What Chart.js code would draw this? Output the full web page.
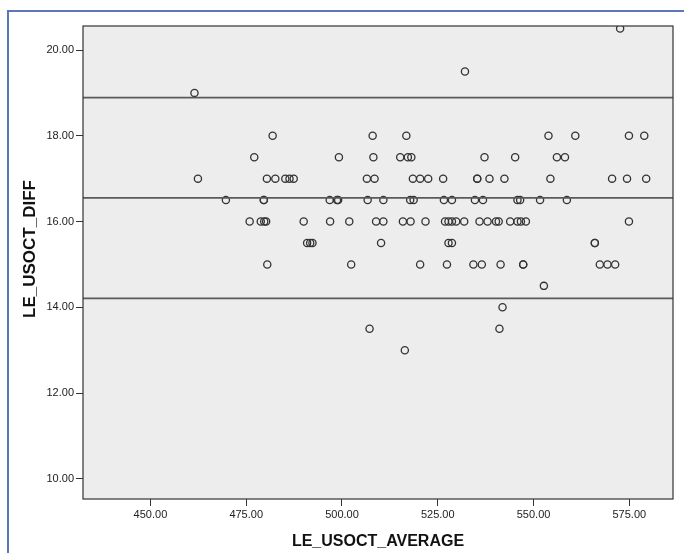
<!DOCTYPE html>
<html>
<head>
<meta charset="utf-8">
<script src="https://cdn.jsdelivr.net/npm/chart.js@4.4.1/dist/chart.umd.min.js"></script>
<style>
  body { margin: 0; background: #fff; }
  #frame { position: absolute; left: 7px; top: 10px; width: 720px; height: 600px; border: 2px solid #5a78b8; }
  #myChart { position: absolute; left: 0; top: 0; }
</style>
</head>
<body>
<div id="frame"></div>
<canvas id="myChart" width="684" height="553"></canvas>
<script>
// difference levels and the averages measured at each level
const diffLevels = [20.5, 19.5, 19.0, 18.0, 17.5, 17.0, 16.5, 16.0, 15.5, 15.0, 14.5, 14.0, 13.5, 13.0];
const averagesByLevel = [
    [572.6],
    [532.1],
    [461.5],
    [481.9, 508.0, 516.8, 553.9, 560.9, 574.9, 578.9],
    [477.1, 499.2, 508.2, 515.2, 517.2, 518.1, 537.2, 545.2, 556.1, 558.2],
    [462.4, 480.4, 482.6, 485.2, 486.3, 487.4, 506.5, 508.5, 518.5, 520.4, 522.5, 526.4, 535.3, 535.3, 538.5, 542.4, 554.4, 570.5, 574.4, 579.4],
    [469.7, 479.6, 479.6, 496.8, 498.7, 499.0, 506.7, 510.8, 517.8, 518.7, 526.6, 528.7, 534.7, 536.8, 545.8, 546.5, 551.7, 558.7],
    [475.9, 478.8, 479.7, 480.2, 490.0, 496.9, 501.9, 508.9, 510.8, 515.9, 517.9, 521.8, 526.9, 527.8, 528.7, 529.8, 531.9, 535.9, 538.0, 540.2, 540.9, 543.9, 545.8, 546.7, 548.0, 574.9],
    [490.9, 491.7, 492.3, 510.2, 527.8, 528.7, 566.0, 566.0],
    [480.5, 502.4, 520.4, 527.4, 534.3, 536.5, 541.4, 547.3, 547.3, 567.3, 569.3, 571.3],
    [552.7],
    [541.9],
    [507.2, 541.1],
    [516.4]
];

// mean difference and limits of agreement
const meanDiff = 16.55;
const upperLimit = 18.89;
const lowerLimit = 14.21;

const xTicks = [450, 475, 500, 525, 550, 575];
const yTicks = [10, 12, 14, 16, 18, 20];
const xRange = [432.4, 586.4];
const yRange = [9.53, 20.56];
const xTitle = 'LE_USOCT_AVERAGE';
const yTitle = 'LE_USOCT_DIFF';

let points = [];
for (let i = 0; i < diffLevels.length; i++) {
    for (let j = 0; j < averagesByLevel[i].length; j++) {
        points.push({ x: averagesByLevel[i][j], y: diffLevels[i] });
    }
}

function hLine(y) {
    return {
        type: 'line',
        data: [{ x: xRange[0], y: y }, { x: xRange[1], y: y }],
        borderColor: '#5a5a5a',
        borderWidth: 1.7,
        pointRadius: 0
    };
}

const tickFont = { family: 'Liberation Sans, Arial, sans-serif', size: 11 };
const titleFont = { family: 'Liberation Sans, Arial, sans-serif', size: 16, weight: 'bold' };

// grey plot area, frame, and the y title (SPSS puts it a bit above centre)
const plotBox = {
    id: 'plotBox',
    beforeDraw(chart) {
        const a = chart.chartArea;
        const c = chart.ctx;
        c.save();
        c.fillStyle = '#ededed';
        c.fillRect(a.left, a.top, a.right - a.left, a.bottom - a.top);
        c.restore();
    },
    afterDraw(chart) {
        const a = chart.chartArea;
        const c = chart.ctx;
        c.save();
        c.strokeStyle = '#333';
        c.lineWidth = 1.2;
        c.strokeRect(a.left, a.top, a.right - a.left, a.bottom - a.top);
        c.translate(30, 249);
        c.rotate(-Math.PI / 2);
        c.font = 'bold 17px Liberation Sans, Arial, sans-serif';
        c.fillStyle = '#111';
        c.textAlign = 'center';
        c.textBaseline = 'middle';
        c.fillText(yTitle, 0, 0);
        c.restore();
    }
};

let ctx = document.getElementById('myChart');
let myChart = new Chart(ctx, {
    type: 'scatter',
    data: {
        datasets: [
            hLine(upperLimit),
            hLine(meanDiff),
            hLine(lowerLimit),
            {
                type: 'scatter',
                data: points,
                pointRadius: 3.6,
                pointBorderWidth: 1.3,
                pointBorderColor: '#333',
                pointBackgroundColor: 'rgba(0,0,0,0)'
            }
        ]
    },
    plugins: [plotBox],
    options: {
        responsive: false,
        animation: false,
        layout: { padding: { left: 0, top: 26, right: 11, bottom: 0 } },
        plugins: {
            legend: { display: false },
            tooltip: { enabled: false }
        },
        scales: {
            x: {
                type: 'linear',
                min: xRange[0],
                max: xRange[1],
                afterBuildTicks: (s) => { s.ticks = xTicks.map(v => ({ value: v })); },
                afterFit: (s) => { s.height = 54; },
                border: { display: false },
                grid: { drawOnChartArea: false, drawTicks: true, tickLength: 7, color: '#333' },
                ticks: {
                    font: tickFont,
                    color: '#222',
                    padding: 2,
                    maxRotation: 0,
                    callback: (v) => Number(v).toFixed(2)
                },
                title: {
                    display: true,
                    text: xTitle,
                    font: titleFont,
                    color: '#111',
                    padding: { top: 0, bottom: 2 }
                }
            },
            y: {
                type: 'linear',
                min: yRange[0],
                max: yRange[1],
                afterBuildTicks: (s) => { s.ticks = yTicks.map(v => ({ value: v })); },
                afterFit: (s) => { s.width = 83; },
                border: { display: false },
                grid: { drawOnChartArea: false, drawTicks: true, tickLength: 7, color: '#333' },
                ticks: {
                    font: tickFont,
                    color: '#222',
                    padding: 2,
                    callback: (v) => Number(v).toFixed(2)
                },
                title: { display: false }
            }
        }
    }
});
</script>
</body>
</html>
